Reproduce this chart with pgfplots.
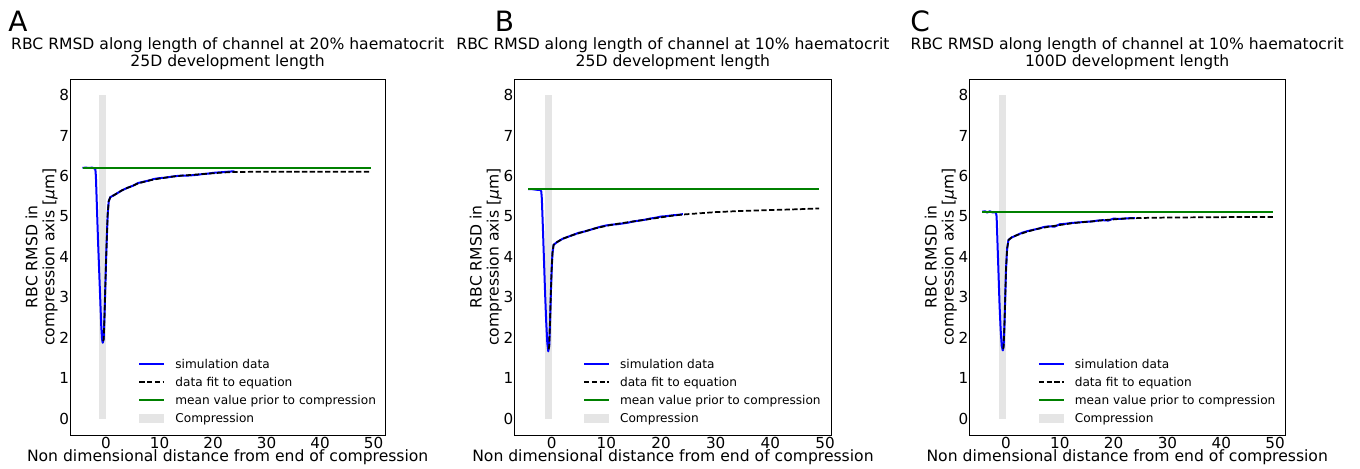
\documentclass[border=0pt]{standalone}
\usepackage{pgfplots}
\pgfplotsset{compat=1.18}
\usepackage{fontspec}
\setmainfont{DejaVu Sans}
\definecolor{mplgreen}{rgb}{0,0.5,0}
\definecolor{compgray}{RGB}{229,229,229}

\pgfplotsset{
  panel/.style={
    scale only axis, height=267pt, anchor=south west,
    ymin=-0.4, ymax=8.4,
    xtick={0,10,20,30,40,50}, ytick={0,1,2,3,4,5,6,7,8},
    major tick length=0pt,
    axis line style={line width=0.75pt},
    tick label style={font=\fontsize{11.4}{13}\selectfont},
    /pgf/number format/assume math mode=true,
    xticklabel style={inner sep=1.2pt},
    yticklabel style={inner xsep=0.6pt},
    title style={font=\fontsize{11.7}{12.75}\selectfont, align=center,
      at={(axis description cs:0.5,1)}, anchor=south, inner sep=0pt, yshift=0.85pt},
    xlabel={Non dimensional distance from end of compression},
    xlabel style={font=\fontsize{11.7}{13}\selectfont, at={(axis description cs:0.5,-0.061)}, anchor=center},
    ylabel={RBC RMSD in\\compression axis [{\itshape μ}m]},
    ylabel style={font=\fontsize{11.7}{12.75}\selectfont, align=center, at={(axis description cs:-0.09,0.5)}, anchor=center},
    legend style={draw=none, fill=none, at={(axis description cs:0.216,0.027)}, anchor=south west,
      font=\fontsize{9.1}{11}\selectfont, inner sep=0pt, row sep=4.5pt,
      nodes={inner sep=0pt, text height=7pt, text depth=2pt},
      /tikz/every odd column/.append style={column sep=7.5pt}},
    legend cell align=left,
  },
  legline/.style={legend image code/.code={\draw[##1] (0pt,0.8pt) -- (18.75pt,0.8pt);}},
  legarea/.style={legend image code/.code={\fill[##1] (0pt,-2.6pt) rectangle (18.75pt,4.2pt);}},
  simline/.style={blue, line width=1.5pt, line join=round, forget plot},
  fitline/.style={black, line width=1.3pt, line join=round, dash pattern=on 4pt off 1.8pt, forget plot},
  meanline/.style={mplgreen, line width=1.5pt, forget plot},
  bar/.style={fill=compgray, draw=none, forget plot},
}
\newcommand{\panellegend}{%
  \addlegendimage{legline, blue, line width=1.5pt}
  \addlegendentry{simulation data}
  \addlegendimage{legline, black, line width=1.3pt, dash pattern=on 4pt off 1.8pt}
  \addlegendentry{data fit to equation}
  \addlegendimage{legline, mplgreen, line width=1.3pt}
  \addlegendentry{mean value prior to compression}
  \addlegendimage{legarea, fill=compgray, draw=none}
  \addlegendentry{Compression}
}

\begin{document}
\begin{tikzpicture}
\path[use as bounding box] (0,0) rectangle (1020pt,351pt);

% ---------------- Panel A ----------------
\begin{axis}[panel, at={(52.5pt,24.75pt)}, width=236.5pt, xmin=-6.74, xmax=52.2,
  title={RBC RMSD along length of channel at 20\% haematocrit\\25D development length}]
\addplot[bar] coordinates {(-1.25,0) (-1.25,8) (0,8) (0,0)} -- cycle;
\addplot[simline] coordinates {
(-4.4,6.20) (-3.8,6.21) (-3.2,6.20) (-2.6,6.21) (-2.2,6.19) (-2.0,6.17) (-1.9,6.0) (-1.7,5.2) (-1.5,4.4)
(-1.3,3.7) (-1.1,3.0) (-0.9,2.3) (-0.75,1.97) (-0.62,1.88) (-0.45,1.97) (-0.3,2.5) (-0.15,3.2)
(0,3.9) (0.15,4.5) (0.3,5.05) (0.5,5.38) (0.8,5.48) (1.5,5.53) (2,5.57) (3,5.65) (4,5.71) (5,5.76)
(6,5.83) (7,5.86) (8,5.89) (9,5.93) (10,5.95) (11,5.96) (12,5.98) (13,6.00) (14,6.01) (15,6.01)
(16,6.02) (17,6.03) (18,6.05) (19,6.06) (20,6.08) (21,6.09) (22,6.10) (23,6.11) (24,6.12)};
\addplot[fitline] coordinates {
(-0.55,1.92) (-0.45,1.97) (-0.3,2.5) (-0.15,3.2)
(0,3.9) (0.15,4.5) (0.3,5.05) (0.5,5.38) (0.8,5.48) (1.5,5.53) (2,5.57) (3,5.65) (4,5.71) (5,5.76)
(6,5.82) (8,5.89) (10,5.94) (12,5.98) (14,6.01) (16,6.03) (18,6.05) (20,6.07) (22,6.09) (24,6.10)
(27,6.105) (30,6.11) (35,6.11) (40,6.11) (45,6.11) (49.6,6.11)};
\addplot[meanline] coordinates {(-4.4,6.21) (49.6,6.21)};
\panellegend
\end{axis}

% ---------------- Panel B ----------------
\begin{axis}[panel, at={(385.7pt,24.75pt)}, width=238pt, xmin=-6.84, xmax=51.2,
  title={RBC RMSD along length of channel at 10\% haematocrit\\25D development length}]
\addplot[bar] coordinates {(-1.25,0) (-1.25,8) (0,8) (0,0)} -- cycle;
\addplot[simline] coordinates {
(-4.3,5.68) (-3.8,5.68) (-3.2,5.67) (-2.6,5.66) (-2.1,5.66) (-1.9,5.62) (-1.8,5.45) (-1.6,4.7) (-1.4,3.9)
(-1.2,3.1) (-1.0,2.4) (-0.8,1.88) (-0.62,1.67) (-0.45,1.8) (-0.3,2.4) (-0.15,3.1)
(0,3.7) (0.15,4.1) (0.35,4.3) (1,4.37) (2,4.45) (3,4.5) (4,4.55) (5,4.6) (6,4.63) (7,4.67)
(8,4.71) (9,4.75) (10,4.78) (11,4.80) (12,4.81) (13,4.83) (14,4.85) (15,4.88) (16,4.90) (17,4.92)
(18,4.95) (19,4.97) (20,5.00) (21,5.01) (22,5.03) (23,5.04) (24,5.06)};
\addplot[fitline] coordinates {
(-0.55,1.72) (-0.45,1.8) (-0.3,2.4) (-0.15,3.1)
(0,3.7) (0.15,4.1) (0.35,4.3) (1,4.37) (2,4.45) (4,4.55) (6,4.63) (8,4.71) (10,4.77) (12,4.82)
(14,4.86) (16,4.90) (18,4.94) (20,4.98) (22,5.02) (24,5.05) (26,5.07) (30,5.11) (35,5.14)
(40,5.16) (45,5.18) (48.9,5.20)};
\addplot[meanline] coordinates {(-4.3,5.67) (48.9,5.67)};
\panellegend
\end{axis}

% ---------------- Panel C ----------------
\begin{axis}[panel, at={(727pt,24.75pt)}, width=236.8pt, xmin=-6.82, xmax=51.86,
  title={RBC RMSD along length of channel at 10\% haematocrit\\100D development length}]
\addplot[bar] coordinates {(-1.25,0) (-1.25,8) (0,8) (0,0)} -- cycle;
\addplot[simline] coordinates {
(-4.4,5.12) (-3.9,5.13) (-3.5,5.10) (-3.0,5.13) (-2.5,5.10) (-2.1,5.11) (-1.85,5.08) (-1.75,5.0) (-1.6,4.4) (-1.4,3.6)
(-1.2,2.8) (-1.0,2.2) (-0.8,1.8) (-0.6,1.69) (-0.45,1.8) (-0.3,2.3) (-0.15,3.0)
(0,3.7) (0.2,4.2) (0.45,4.42) (1,4.48) (2,4.54) (3,4.6) (4,4.64) (5,4.67) (6,4.70) (7,4.74)
(8,4.76) (9,4.75) (10,4.81) (11,4.82) (12,4.84) (13,4.85) (14,4.86) (15,4.87) (16,4.88) (17,4.90)
(18,4.91) (19,4.90) (20,4.95) (21,4.94) (22,4.95) (23,4.96) (24,4.96)};
\addplot[fitline] coordinates {
(-0.52,1.73) (-0.45,1.8) (-0.3,2.3) (-0.15,3.0)
(0,3.7) (0.2,4.2) (0.45,4.42) (1,4.48) (2,4.54) (4,4.63) (6,4.70) (8,4.75) (10,4.79) (12,4.83)
(14,4.86) (16,4.88) (18,4.91) (20,4.93) (22,4.95) (24,4.96) (27,4.97) (30,4.975) (35,4.98)
(40,4.985) (45,4.99) (49.7,4.99)};
\addplot[meanline] coordinates {(-4.4,5.11) (49.7,5.11)};
\panellegend
\end{axis}

% panel letters
\node[anchor=base west, inner sep=0pt, font=\fontsize{21}{23}\selectfont] at (6pt,327pt) {A};
\node[anchor=base west, inner sep=0pt, font=\fontsize{21}{23}\selectfont] at (371pt,327pt) {B};
\node[anchor=base west, inner sep=0pt, font=\fontsize{21}{23}\selectfont] at (682.5pt,327pt) {C};
\end{tikzpicture}
\end{document}
